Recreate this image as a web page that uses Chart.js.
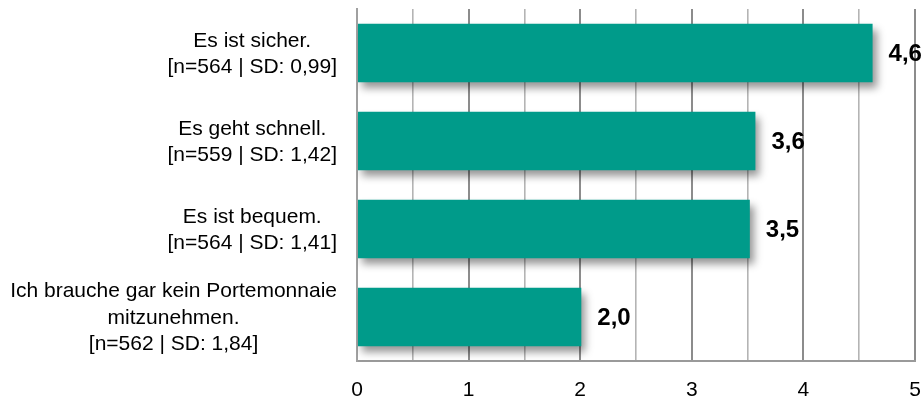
<!DOCTYPE html>
<html>
<head>
<meta charset="utf-8">
<script src="https://cdn.jsdelivr.net/npm/chart.js@4.4.0/dist/chart.umd.min.js"></script>
<style>
  html, body { margin: 0; padding: 0; background: #fff; }
  #wrap { width: 923px; height: 397px; }
</style>
</head>
<body>
<div id="wrap"><canvas id="myChart" width="923" height="397"></canvas></div>
<script>
// categories (multi-line) and mean values
const categories = [
    ['Es ist sicher.', '[n=564 | SD: 0,99]'],
    ['Es geht schnell.', '[n=559 | SD: 1,42]'],
    ['Es ist bequem.', '[n=564 | SD: 1,41]'],
    ['Ich brauche gar kein Portemonnaie', 'mitzunehmen.', '[n=562 | SD: 1,84]']
];
const values = [4.62, 3.57, 3.52, 2.01];
const xMin = 0;
const xMax = 5;
const xStep = 0.5;

const FONT = "Arial, 'Liberation Sans', sans-serif";

// drop shadow under the bars
const barShadow = {
    id: 'barShadow',
    beforeDatasetsDraw(chart) {
        const ctx = chart.ctx;
        ctx.save();
        ctx.shadowColor = 'rgba(0, 0, 0, 0.42)';
        ctx.shadowOffsetX = 4;
        ctx.shadowOffsetY = 6;
        ctx.shadowBlur = 8;
    },
    afterDatasetsDraw(chart) {
        chart.ctx.restore();
    }
};

// value labels right of the bars, german decimal comma
const valueLabels = {
    id: 'valueLabels',
    afterDatasetsDraw(chart) {
        const ctx = chart.ctx;
        const meta = chart.getDatasetMeta(0);
        ctx.save();
        ctx.font = 'bold 24px ' + FONT;
        ctx.fillStyle = '#000';
        ctx.textAlign = 'left';
        ctx.textBaseline = 'middle';
        meta.data.forEach((bar, i) => {
            const txt = values[i].toFixed(1).replace('.', ',');
            ctx.fillText(txt, bar.x + 16, bar.y + 1);
        });
        ctx.restore();
    }
};

// category labels: block right aligned, lines centered inside the block
const categoryLabels = {
    id: 'categoryLabels',
    afterDraw(chart) {
        const ctx = chart.ctx;
        const yScale = chart.scales.y;
        const right = 337;
        const lh = 26.5;
        ctx.save();
        ctx.font = '21px ' + FONT;
        ctx.fillStyle = '#000';
        ctx.textAlign = 'center';
        ctx.textBaseline = 'middle';
        categories.forEach((lines, i) => {
            const cy = yScale.getPixelForTick(i);
            const w = Math.max(...lines.map(l => ctx.measureText(l).width));
            const cx = right - w / 2;
            const y0 = cy - (lines.length - 1) * lh / 2 + 1;
            lines.forEach((l, k) => ctx.fillText(l, cx, y0 + k * lh));
        });
        ctx.restore();
    }
};

const ctx = document.getElementById('myChart');
new Chart(ctx, {
    type: 'bar',
    data: {
        labels: categories,
        datasets: [{
            data: values,
            backgroundColor: '#009B8A',
            borderWidth: 0,
            categoryPercentage: 1,
            barPercentage: 0.664
        }]
    },
    options: {
        indexAxis: 'y',
        responsive: false,
        animation: false,
        devicePixelRatio: 1,
        layout: { padding: { top: 9, right: 8, bottom: 0, left: 0 } },
        plugins: {
            legend: { display: false },
            tooltip: { enabled: false }
        },
        scales: {
            x: {
                min: xMin,
                max: xMax,
                ticks: {
                    stepSize: xStep,
                    autoSkip: false,
                    maxRotation: 0,
                    padding: 0,
                    color: '#000',
                    font: { family: FONT, size: 21 },
                    callback: (v) => Number.isInteger(v) ? String(v) : ''
                },
                grid: {
                    drawTicks: true,
                    tickLength: 17,
                    tickColor: 'rgba(0,0,0,0)',
                    color: (c) => Number.isInteger(c.tick.value) ? '#8c8c8c' : '#b4b4b4',
                    lineWidth: (c) => Number.isInteger(c.tick.value) ? 2 : 1.6
                },
                border: { display: true, color: '#9a9a9a', width: 2 },
                afterFit: (scale) => { scale.height = 36; }
            },
            y: {
                ticks: { display: false },
                grid: { display: false, drawTicks: false },
                border: { display: true, color: '#a0a0a0', width: 2 },
                afterFit: (scale) => { scale.width = 357; }
            }
        }
    },
    plugins: [barShadow, valueLabels, categoryLabels]
});
</script>
</body>
</html>
